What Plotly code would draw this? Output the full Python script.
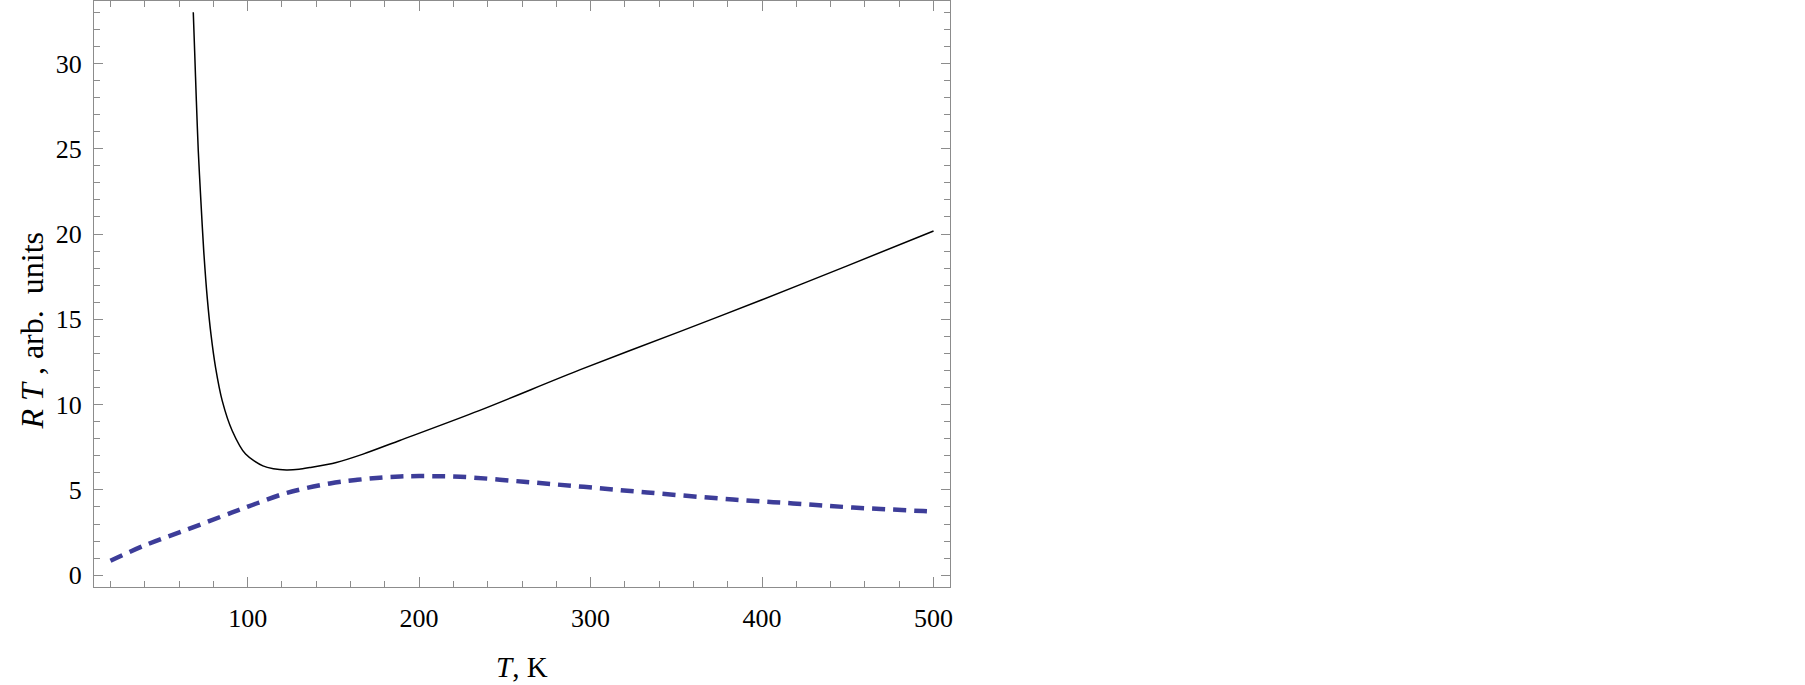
import plotly.graph_objects as go

# solid curve, R*T vs T
t_solid = [68.3, 69.1, 70.1, 71.2, 72.7, 74.4, 76.5, 78.6, 81.3, 85.2, 91.0, 98.8,
           108.9, 115.0, 122.6, 130.0, 136.2, 151.7, 167.3, 188.7, 235.0, 294.0, 352.0,
           400.0, 450.0, 500.0]
rt_solid = [33.0, 30.7, 27.8, 24.9, 22.0, 19.0, 16.2, 14.13, 12.17, 10.22, 8.47, 7.1,
            6.41, 6.24, 6.17, 6.21, 6.31, 6.61, 7.10, 7.90, 9.65, 12.05, 14.28,
            16.15, 18.15, 20.18]

# dashed curve
t_dash = [20, 40, 64, 91, 101, 123, 148, 163, 177, 189, 200, 224, 261, 296, 333,
          383, 418, 453, 494, 500]
rt_dash = [0.85, 1.75, 2.65, 3.68, 4.05, 4.83, 5.38, 5.58, 5.72, 5.79, 5.81, 5.77,
           5.48, 5.18, 4.85, 4.44, 4.21, 3.97, 3.76, 3.73]

x_ticks = [100, 200, 300, 400, 500]
y_ticks = [0, 5, 10, 15, 20, 25, 30]

FONT = "Liberation Serif"
FRAME = "#8c8c8c"

fig = go.Figure()

fig.add_trace(go.Scatter(
    x=t_dash, y=rt_dash, mode="lines",
    line=dict(color="#3d3d99", width=4.5, dash="13px,8px", shape="spline", smoothing=1.0),
    showlegend=False,
))
fig.add_trace(go.Scatter(
    x=t_solid, y=rt_solid, mode="lines",
    line=dict(color="black", width=1.5, shape="spline", smoothing=0.8),
    showlegend=False,
))

axis_common = dict(
    showgrid=False, zeroline=False,
    showline=True, linecolor=FRAME, linewidth=1.2, mirror="allticks",
    ticks="inside", tickcolor=FRAME, tickwidth=1,
    tickfont=dict(family=FONT, size=26, color="black"),
)

fig.update_xaxes(
    range=[10.4, 509.6], tickvals=x_ticks, ticklen=10,
    minor=dict(dtick=20, tick0=0, ticks="inside", ticklen=6, tickcolor=FRAME),
    ticklabelstandoff=8,
    **axis_common,
)
fig.update_yaxes(
    range=[-0.69, 33.66], tickvals=y_ticks, ticklen=9,
    minor=dict(dtick=1, tick0=0, ticks="inside", ticklen=6, tickcolor=FRAME),
    ticklabelstandoff=6,
    **axis_common,
)

# axis titles
fig.add_annotation(
    text="<i>T</i>, K", xref="paper", yref="paper", x=0.5, y=-0.137,
    xanchor="center", yanchor="middle", showarrow=False,
    font=dict(family=FONT, size=29, color="black"),
)
fig.add_annotation(
    text="<i>R</i> <i>T</i> , arb.&nbsp;&nbsp;units", xref="paper", yref="paper",
    x=-0.073, y=0.437, xanchor="center", yanchor="middle", textangle=-90,
    showarrow=False, font=dict(family=FONT, size=32, color="black"),
)

fig.update_layout(
    width=1805, height=685,
    margin=dict(l=94, r=855, t=1, b=98),
    plot_bgcolor="white", paper_bgcolor="white",
)

fig.write_html("out.html", config={"displayModeBar": False},
               post_script="document.body.style.margin='0px';")
